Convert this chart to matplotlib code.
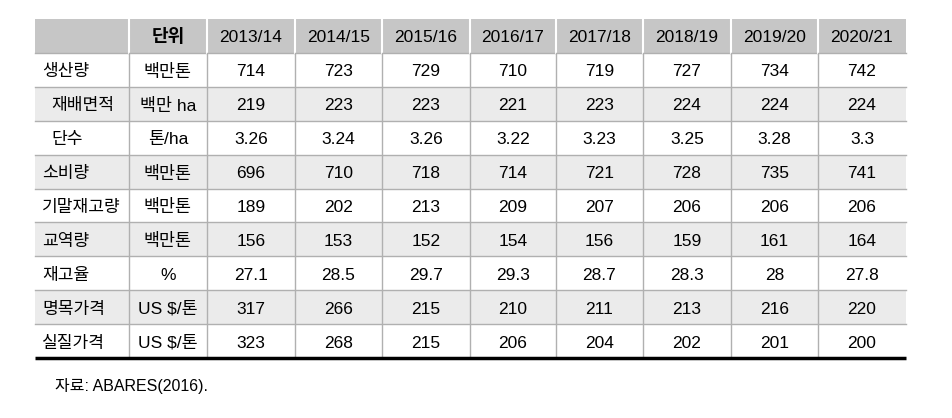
"""
Wheat market outlook table (ABARES 2016) redrawn as a matplotlib figure
"""

import matplotlib
matplotlib.use('Agg')
import matplotlib.pyplot as plt
from matplotlib.patches import Rectangle

plt.rcParams['font.family'] = ['Liberation Sans', 'Noto Sans CJK KR', 'DejaVu Sans']

# Table contents
years = ['2013/14', '2014/15', '2015/16', '2016/17', '2017/18', '2018/19', '2019/20', '2020/21']
row_labels = ['생산량', '재배면적', '단수', '소비량', '기말재고량', '교역량', '재고율', '명목가격', '실질가격']
row_indent = [False, True, True, False, False, False, False, False, False]
units = ['백만톤', '백만 ha', '톤/ha', '백만톤', '백만톤', '백만톤', '%', 'US $/톤', 'US $/톤']

production = ['714', '723', '729', '710', '719', '727', '734', '742']
area = ['219', '223', '223', '221', '223', '224', '224', '224']
yield_ha = ['3.26', '3.24', '3.26', '3.22', '3.23', '3.25', '3.28', '3.3']
consumption = ['696', '710', '718', '714', '721', '728', '735', '741']
end_stocks = ['189', '202', '213', '209', '207', '206', '206', '206']
trade = ['156', '153', '152', '154', '156', '159', '161', '164']
stock_ratio = ['27.1', '28.5', '29.7', '29.3', '28.7', '28.3', '28', '27.8']
nominal_price = ['317', '266', '215', '210', '211', '213', '216', '220']
real_price = ['323', '268', '215', '206', '204', '202', '201', '200']

rows = [production, area, yield_ha, consumption, end_stocks, trade,
        stock_ratio, nominal_price, real_price]

source_note = '자료: ABARES(2016).'

# Layout in pixels
W, H = 953, 418
col_edges = [35, 129, 207, 295, 382, 470, 556, 643, 731, 818, 906]
top = 19
row_h = 33.9
n_rows = len(rows)
dy = 2.0  # text sits a little below the cell centre

header_bg = '#c6c6c6'
stripe_bg = '#ebebeb'
line_col = '#b0b0b0'
fs = 12.5
fs_kr = 12.3

fig = plt.figure(figsize=(W / 100, H / 100), dpi=100)
ax = fig.add_axes([0, 0, 1, 1])
ax.set_xlim(0, W)
ax.set_ylim(H, 0)
ax.axis('off')

left, right = col_edges[0], col_edges[-1]
bottom = top + row_h * (n_rows + 1)

# Header band
ax.add_patch(Rectangle((left, top), right - left, row_h, facecolor=header_bg,
                       edgecolor='none', zorder=1))

# Striped body rows
for i in range(n_rows):
    y0 = top + row_h * (i + 1)
    if i % 2 == 1:
        ax.add_patch(Rectangle((left, y0), right - left, row_h, facecolor=stripe_bg,
                               edgecolor='none', zorder=1))

# Horizontal grid lines
for i in range(1, n_rows + 1):
    y = top + row_h * i
    ax.plot([left, right], [y, y], color=line_col, linewidth=1.0, zorder=2)

# Vertical lines: white in header, gray in body
for x in col_edges[1:-1]:
    ax.plot([x, x], [top, top + row_h], color='white', linewidth=1.5, zorder=2)
    ax.plot([x, x], [top + row_h, bottom], color=line_col, linewidth=1.0, zorder=2)

# Thick bottom rule
ax.plot([left, right], [bottom, bottom], color='black', linewidth=2.5,
        solid_capstyle='butt', zorder=3)

# Header text
hy = top + row_h / 2 + dy
ax.text((col_edges[1] + col_edges[2]) / 2, hy, '단위', ha='center', va='center',
        fontsize=13, fontweight='bold', zorder=4)
for j, yr in enumerate(years):
    cx = (col_edges[j + 2] + col_edges[j + 3]) / 2
    ax.text(cx, hy, yr, ha='center', va='center', fontsize=fs, zorder=4)

# Body text
for i, vals in enumerate(rows):
    cy = top + row_h * (i + 1.5) + dy
    lx = left + (16 if row_indent[i] else 7)
    ax.text(lx, cy, row_labels[i], ha='left', va='center', fontsize=fs_kr, zorder=4)
    ax.text((col_edges[1] + col_edges[2]) / 2, cy, units[i], ha='center',
            va='center', fontsize=fs, zorder=4)
    for j, v in enumerate(vals):
        cx = (col_edges[j + 2] + col_edges[j + 3]) / 2
        ax.text(cx, cy, v, ha='center', va='center', fontsize=fs, zorder=4)

# Source note
ax.text(55, 386, source_note, ha='left', va='center', fontsize=11.5)

fig.savefig('out.png', dpi=100)
plt.close(fig)
